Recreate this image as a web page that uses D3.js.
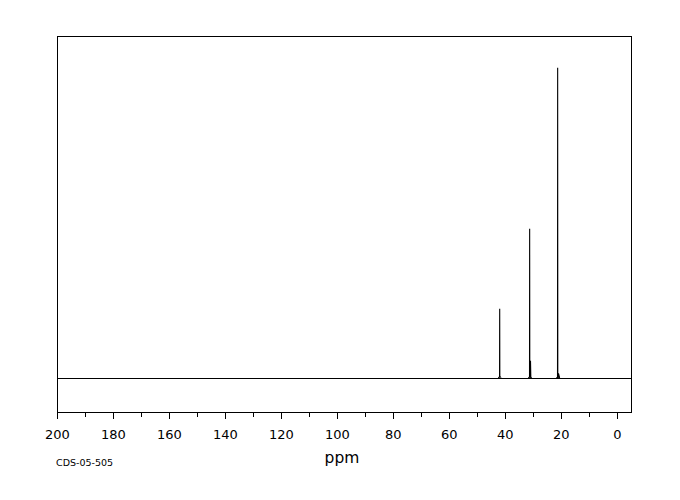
<!DOCTYPE html>
<html>
<head>
<meta charset="utf-8">
<script src="https://cdn.jsdelivr.net/npm/d3@7"></script>
<style>
  html, body { margin: 0; padding: 0; background: #fff; }
  svg { display: block; }
</style>
</head>
<body>
<svg id="chart" width="680" height="500"></svg>
<script>
// ---- data ----
const peakPpm    = [42.0, 31.3, 31.0, 21.3, 21.0];
const peakHeight = [22.2, 48.0, 5.5, 99.8, 1.4];
const peakWidth  = [0.05, 0.05, 0.12, 0.05, 0.4];   // half-width in ppm
const footPpm    = [42.0, 31.2, 21.2];
const footHeight = [0.5, 0.6, 0.4];
const tickMajor  = [200, 180, 160, 140, 120, 100, 80, 60, 40, 20, 0];
const tickMinor  = [190, 170, 150, 130, 110, 90, 70, 50, 30, 10];
const xLabel = "ppm";
const codeLabel = "CDS-05-505";

(function () {
// ---- layout ----
const mLeft = 57, mRight = 631, mTop = 36, mBottom = 412;
const svg = d3.select("#chart");

const x = d3.scaleLinear().domain([200, 0]).range([57.3, 617.3]);
const y = d3.scaleLinear().domain([-11, 110]).range([mBottom, mTop]);

// frame
svg.append("rect")
  .attr("x", mLeft + 0.5).attr("y", mTop + 0.5)
  .attr("width", mRight - mLeft).attr("height", mBottom - mTop)
  .attr("fill", "none").attr("stroke", "#000").attr("stroke-width", 1)
  .attr("shape-rendering", "crispEdges");

// axis ticks
const g = svg.append("g").attr("shape-rendering", "crispEdges");
g.selectAll("line.maj").data(tickMajor).join("line")
  .attr("class", "maj")
  .attr("x1", d => Math.round(x(d)) + 0.5).attr("x2", d => Math.round(x(d)) + 0.5)
  .attr("y1", mBottom).attr("y2", mBottom + 7)
  .attr("stroke", "#000");
g.selectAll("line.min").data(tickMinor).join("line")
  .attr("class", "min")
  .attr("x1", d => Math.round(x(d)) + 0.5).attr("x2", d => Math.round(x(d)) + 0.5)
  .attr("y1", mBottom).attr("y2", mBottom + 5)
  .attr("stroke", "#000");

svg.selectAll("text.tick").data(tickMajor).join("text")
  .attr("class", "tick")
  .attr("x", d => x(d)).attr("y", 438.5)
  .attr("text-anchor", "middle")
  .attr("font-family", "DejaVu Sans, sans-serif")
  .attr("font-size", 13)
  .attr("fill", "#000")
  .text(d => d);

svg.append("text")
  .attr("x", 342).attr("y", 463)
  .attr("text-anchor", "middle")
  .attr("font-family", "DejaVu Sans, sans-serif")
  .attr("font-size", 15.5)
  .attr("fill", "#000")
  .text(xLabel);

svg.append("text")
  .attr("x", 56).attr("y", 465.5)
  .attr("font-family", "DejaVu Sans, sans-serif")
  .attr("font-size", 9.5)
  .attr("fill", "#000")
  .text(codeLabel);

// spectrum
svg.append("clipPath").attr("id", "clip")
  .append("rect").attr("x", mLeft + 1).attr("y", mTop + 1)
  .attr("width", mRight - mLeft - 1).attr("height", mBottom - mTop - 1);

const spec = svg.append("g").attr("clip-path", "url(#clip)");

// baseline
spec.append("line")
  .attr("x1", mLeft).attr("x2", mRight + 1)
  .attr("y1", Math.round(y(0)) + 0.5).attr("y2", Math.round(y(0)) + 0.5)
  .attr("stroke", "#000").attr("shape-rendering", "crispEdges");

const peaks = peakPpm.map((p, i) => ({ p, h: peakHeight[i], w: peakWidth[i] }));
const line = d3.line().x(d => d[0]).y(d => d[1]);
spec.selectAll("path.peak").data(peaks).join("path")
  .attr("class", "peak")
  .attr("d", d => line([
    [x(d.p + d.w), y(0)], [x(d.p), y(d.h)], [x(d.p - d.w), y(0)]
  ]))
  .attr("fill", "#000")
  .attr("stroke", "#000").attr("stroke-width", 1.1);

const feet = footPpm.map((p, i) => ({ p, h: footHeight[i] }));
spec.selectAll("path.foot").data(feet).join("path")
  .attr("class", "foot")
  .attr("d", d => line([
    [x(d.p + 0.6), y(0)], [x(d.p), y(d.h)], [x(d.p - 0.6), y(0)]
  ]))
  .attr("fill", "none")
  .attr("stroke", "#000").attr("stroke-width", 1);
})();
</script>
</body>
</html>
